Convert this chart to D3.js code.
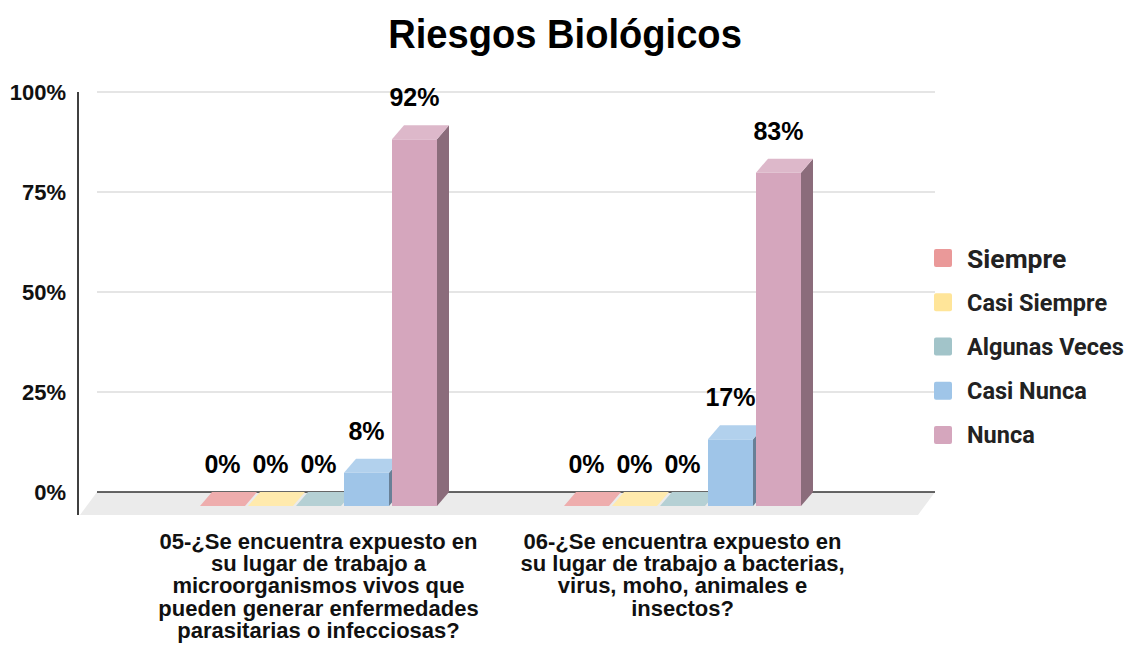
<!DOCTYPE html>
<html><head><meta charset="utf-8">
<script src="https://cdn.jsdelivr.net/npm/d3@7"></script>
<style>
html,body{margin:0;padding:0;background:#fff;}
svg{display:block;}
</style></head>
<body>
<svg id="chart" width="1127" height="652"></svg>
<script>
// ---- data ----
const title = "Riesgos Biológicos";
const categories = [
  "05-¿Se encuentra expuesto en su lugar de trabajo a microorganismos vivos que pueden generar enfermedades parasitarias o infecciosas?",
  "06-¿Se encuentra expuesto en su lugar de trabajo a bacterias, virus, moho, animales e insectos?"
];
const categoryLines = [
  ["05-¿Se encuentra expuesto en","su lugar de trabajo a","microorganismos vivos que","pueden generar enfermedades","parasitarias o infecciosas?"],
  ["06-¿Se encuentra expuesto en","su lugar de trabajo a bacterias,","virus, moho, animales e","insectos?"]
];
const seriesNames = ["Siempre","Casi Siempre","Algunas Veces","Casi Nunca","Nunca"];
const seriesColors = ["#ea9999","#ffe599","#a2c4c9","#9fc5e8","#d5a6bd"];
const siempre      = [0, 0];
const casiSiempre  = [0, 0];
const algunasVeces = [0, 0];
const casiNunca    = [0.0833, 0.1667];
const nunca        = [0.9167, 0.8333];
const seriesValues = [siempre, casiSiempre, algunasVeces, casiNunca, nunca];
const yTicks = [0, 0.25, 0.5, 0.75, 1];

// ---- layout ----
const svg = d3.select("#chart");
const depthX = 12, depthY = 14;          // bar depth
const floorDX = 17, floorDY = 23;        // floor depth
const backLeft = 97, backRight = 935;
const y = d3.scaleLinear().domain([0,1]).range([492, 92]);   // back plane
const x0 = d3.scaleBand().domain(categories).range([136.5, 864.5]);
const x1 = d3.scaleBand().domain(seriesNames).range([63.5, 300.5]).paddingInner(0.0625);

const fmt = d3.format(".0%");

// title
svg.append("text")
  .attr("transform", `translate(565,48) scale(0.93,1)`)
  .attr("text-anchor","middle")
  .style("font-family","'Liberation Sans', Arial, sans-serif")
  .style("font-weight","bold").style("font-size","41px").attr("fill","#000")
  .text(title);

// gridlines
svg.append("g").selectAll("line").data(yTicks.filter(d => d > 0)).join("line")
  .attr("x1", backLeft).attr("x2", backRight)
  .attr("y1", d => y(d)).attr("y2", d => y(d))
  .attr("stroke","#cccccc").attr("stroke-width",1.2);

// floor
const y0 = y(0);
svg.append("path")
  .attr("d", `M${backLeft},${y0}L${backRight},${y0}L${backRight-floorDX},${y0+floorDY}L${backLeft-floorDX},${y0+floorDY}Z`)
  .attr("fill","#ebebeb");
svg.append("line")
  .attr("x1", backLeft).attr("x2", backRight).attr("y1", y0).attr("y2", y0)
  .attr("stroke","#333").attr("stroke-width",1.5);

// y axis labels
const yAxis = d3.axisLeft(y).tickValues(yTicks).tickSize(0).tickPadding(9).tickFormat(fmt);
const ya = svg.append("g").attr("transform","translate(75,0)").call(yAxis);
ya.select(".domain").remove();
ya.selectAll("text")
  .style("font-family","'Liberation Sans', Arial, sans-serif")
  .style("font-weight","bold").style("font-size","22px").attr("fill","#111");
// vertical axis line
svg.append("line").attr("x1",78).attr("x2",78).attr("y1",y(1)).attr("y2",y0+floorDY)
  .attr("stroke","#000").attr("stroke-width",1.5);

// bars
const barsG = svg.append("g");
categories.forEach((cat, ci) => {
  seriesNames.forEach((sn, si) => {
    const v = seriesValues[si][ci];
    const col = seriesColors[si];
    const topCol = d3.interpolateRgb(col, "#ffffff")(0.2);
    const sideCol = d3.color(col).darker(1.2).formatHex();
    const fx = x0(cat) + x1(sn);            // front left
    const w = x1.bandwidth();
    const fb = y(0) + depthY;               // front bottom
    const ft = y(v) + depthY;               // front top
    const g = barsG.append("g");
    g.append("path")
      .attr("d", `M${fx+w},${fb}L${fx+w+depthX},${fb-depthY}L${fx+w+depthX},${ft-depthY}L${fx+w},${ft}Z`)
      .attr("fill", sideCol);
    g.append("rect").attr("x", fx).attr("y", ft).attr("width", w).attr("height", fb - ft)
      .attr("fill", col);
    g.append("path")
      .attr("d", `M${fx},${ft}L${fx+depthX},${ft-depthY}L${fx+w+depthX},${ft-depthY}L${fx+w},${ft}Z`)
      .attr("fill", topCol);
    g.append("text")
      .attr("x", fx + w/2).attr("y", y(v) - 19)
      .attr("text-anchor","middle")
      .style("font-family","'Liberation Sans', Arial, sans-serif")
      .style("font-weight","bold").style("font-size","25px").attr("fill","#000")
      .text(fmt(v));
  });
});

// category labels
categories.forEach((cat, ci) => {
  const cx = x0(cat) + x0.bandwidth()/2;
  const t = svg.append("text")
    .attr("transform", `translate(${cx},549)`)
    .attr("text-anchor","middle")
    .style("font-family","'Liberation Sans', Arial, sans-serif")
    .style("font-weight","bold").style("font-size","22px").attr("fill","#111");
  categoryLines[ci].forEach((ln, li) => {
    t.append("tspan").attr("x",0).attr("y", li*22.2).text(ln);
  });
});

// legend
const lg = svg.append("g").attr("transform","translate(934,258)");
seriesNames.forEach((sn, i) => {
  const row = lg.append("g").attr("transform", `translate(0,${i*44.25})`);
  row.append("rect").attr("x",0).attr("y",-9).attr("width",18).attr("height",18)
    .attr("rx",2).attr("fill", seriesColors[i]);
  row.append("text").attr("x",33).attr("y",0).attr("dy","0.36em")
    .style("font-family","Roboto, sans-serif").style("font-weight","bold")
    .style("font-size", i === 0 ? "26.5px" : "23.5px").attr("fill","#222")
    .text(sn);
});
</script>
</body></html>
